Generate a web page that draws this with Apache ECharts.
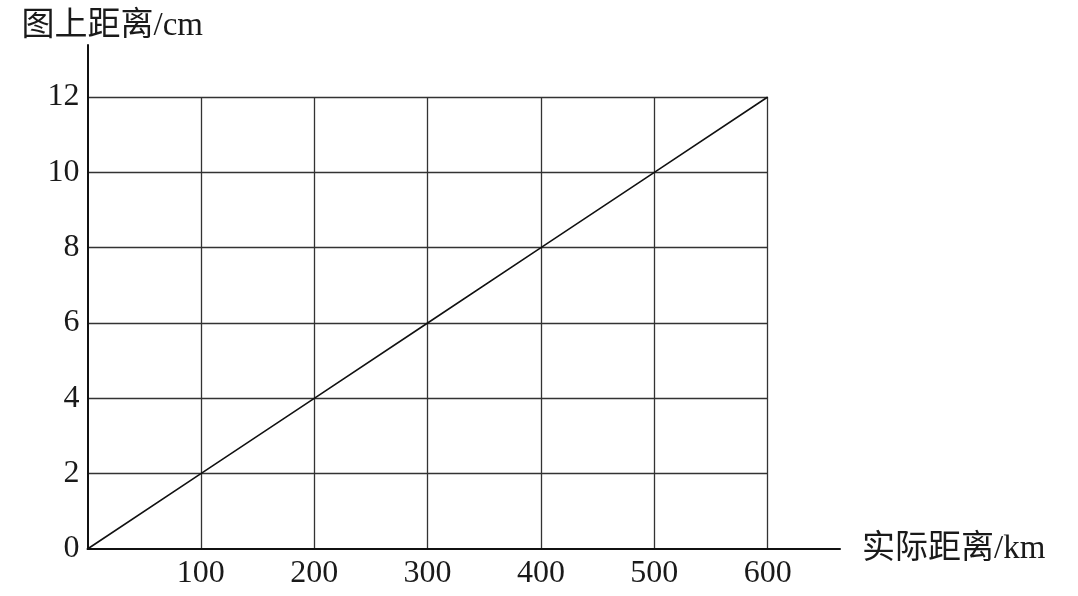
<!DOCTYPE html>
<html>
<head>
<meta charset="utf-8">
<script src="https://cdn.jsdelivr.net/npm/echarts@6/dist/echarts.min.js"></script>
<style>
html,body{margin:0;padding:0;background:#fff;}
#c{width:1078px;height:596px;}
</style>
</head>
<body>
<div id="c"></div>
<script>
// Data
var xValues = [0, 100, 200, 300, 400, 500, 600];      // 实际距离 km
var yValues = [0, 2, 4, 6, 8, 10, 12];                // 图上距离 cm
var xTickLabels = [100, 200, 300, 400, 500, 600];
var yTickLabels = [0, 2, 4, 6, 8, 10, 12];
var xAxisName = '实际距离/km';
var yAxisName = '图上距离/cm';

var FONT = '"Liberation Serif", "Noto Sans CJK SC", serif';
var chart = echarts.init(document.getElementById('c'), null, {renderer: 'canvas'});

var ox = 87.5, oy = 549;           // origin pixel
var boxW = 680.2, boxH = 452;      // pixel size of the 0..600 x 0..12 box
var axisEndX = 840, axisTopY = 45;
var xMaxOuter = 600 * (axisEndX - ox) / boxW;
var yMaxOuter = 12 * (oy - axisTopY) / boxH;

var seriesData = xValues.map(function (x, i) { return [x, yValues[i]]; });

chart.setOption({
  animation: false,
  backgroundColor: '#fff',
  grid: [
    {left: ox, top: axisTopY, width: axisEndX - ox, height: oy - axisTopY, containLabel: false},
    {left: ox, top: oy - boxH, width: boxW, height: boxH, containLabel: false}
  ],
  xAxis: [
    {
      gridIndex: 0, type: 'value', min: 0, max: xMaxOuter, interval: 100,
      axisLine: {show: true, lineStyle: {color: '#111', width: 2}},
      axisTick: {show: false},
      splitLine: {show: false},
      axisLabel: {
        show: true, customValues: xTickLabels, margin: 9,
        color: '#1a1a1a', fontFamily: FONT, fontSize: 32
      },
      name: xAxisName, nameLocation: 'end', nameGap: 22,
      nameTextStyle: {color: '#1a1a1a', fontFamily: FONT, fontSize: 33, verticalAlign: 'middle', padding: [14, 0, 0, 0]}
    },
    {
      gridIndex: 1, type: 'value', min: 0, max: 600, interval: 100,
      axisLine: {show: false}, axisTick: {show: false}, axisLabel: {show: false},
      splitLine: {show: true, showMinLine: false, showMaxLine: true, lineStyle: {color: '#333', width: 1.3}}
    }
  ],
  yAxis: [
    {
      gridIndex: 0, type: 'value', min: 0, max: yMaxOuter, interval: 2,
      axisLine: {show: true, lineStyle: {color: '#111', width: 2}},
      axisTick: {show: false},
      splitLine: {show: false},
      axisLabel: {
        show: true, customValues: yTickLabels, margin: 8,
        color: '#1a1a1a', fontFamily: FONT, fontSize: 32,
        padding: [0, 0, 10, 0]
      },
      name: yAxisName, nameLocation: 'end', nameGap: 19,
      nameTextStyle: {color: '#1a1a1a', fontFamily: FONT, fontSize: 33, align: 'left', verticalAlign: 'middle', padding: [0, 0, 0, -66]}
    },
    {
      gridIndex: 1, type: 'value', min: 0, max: 12, interval: 2,
      axisLine: {show: false}, axisTick: {show: false}, axisLabel: {show: false},
      splitLine: {show: true, showMinLine: false, showMaxLine: true, lineStyle: {color: '#333', width: 1.3}}
    }
  ],
  series: [
    {
      type: 'line', xAxisIndex: 1, yAxisIndex: 1,
      data: seriesData, showSymbol: false, symbol: 'none',
      lineStyle: {color: '#111', width: 1.6},
      silent: true
    }
  ]
});
</script>
</body>
</html>
